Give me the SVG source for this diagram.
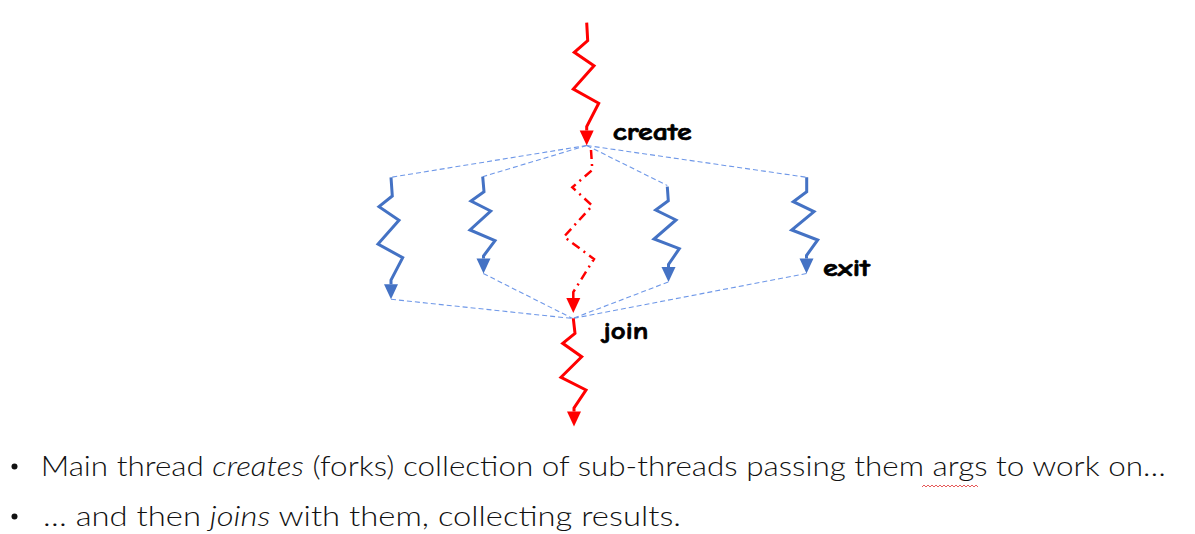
<svg xmlns="http://www.w3.org/2000/svg" width="1195" height="534" viewBox="0 0 1195 534">
<style>
.red{fill:none;stroke:#FF0000;stroke-width:3;stroke-linejoin:miter}
.reddd{fill:none;stroke:#FF0000;stroke-width:2.5;stroke-dasharray:9 5 2 5}
.blue{fill:none;stroke:#4472C4;stroke-width:3}
.dash{fill:none;stroke:#6F98E8;stroke-width:1.1;stroke-dasharray:5 3}
.lbl{font-family:"Comic Sans MS","Comic Neue","DejaVu Sans",sans-serif;font-weight:bold;font-size:24px;fill:#000;stroke:#000;stroke-width:0.7}
.body{font-family:"Gill Sans MT","Gill Sans",Lato,"Liberation Sans",sans-serif;font-weight:300;font-size:28px;fill:#111}
</style>
<defs>
<marker id="ar" markerWidth="15" markerHeight="14" refX="0" refY="7" orient="auto" markerUnits="userSpaceOnUse" overflow="visible"><path d="M0,0 L15,7 L0,14 z" fill="#FF0000"/></marker>
<marker id="ab" markerWidth="15" markerHeight="14" refX="0" refY="7" orient="auto" markerUnits="userSpaceOnUse" overflow="visible"><path d="M0,0 L15,7 L0,14 z" fill="#4472C4"/></marker>
</defs>
<g id="connectors">
<path class="dash" d="M586.7,145.5 L391,177.3"/>
<path class="dash" d="M586.7,145.5 L482.7,176.7"/>
<path class="dash" d="M586.7,145.5 L667.3,185.5"/>
<path class="dash" d="M586.7,145.5 L806.7,177.3"/>
<path class="dash" d="M391,299.3 L572.7,318.5"/>
<path class="dash" d="M483.3,273.5 L572.7,318.5"/>
<path class="dash" d="M668.3,282 L572.7,318.5"/>
<path class="dash" d="M806.5,273.5 L572.7,318.5"/>
</g>
<g id="main-top">
<path class="red" marker-end="url(#ar)" d="M586.7,22.7 L587.7,40.7 L574.3,52.3 L594,65.7 L573.3,89 L598.7,103.3 L586.7,126.5 L586.7,130.5"/>
<text class="lbl" x="612.7" y="140" textLength="79" lengthAdjust="spacingAndGlyphs">create</text>
</g>
<g id="thread1">
<path class="blue" marker-end="url(#ab)" d="M391,177.3 L392.3,196 L379,206.7 L399,220.3 L378,244 L402.7,257.7 L391,280 L391,284.3"/>
</g>
<g id="thread2">
<path class="blue" marker-end="url(#ab)" d="M482.7,176.7 L484,191.7 L471,201 L490.7,211 L470,230 L495,240.7 L483.5,256 L483.5,258.5"/>
</g>
<g id="main-sub">
<path class="reddd" marker-end="url(#ar)" d="M591,150 L592.3,170 L572.3,187.3 L592.3,205.7 L564,236.7 L594,259 L573.3,292 L573.3,298"/>
</g>
<g id="thread3">
<path class="blue" marker-end="url(#ab)" d="M667.3,186.7 L668.3,200.7 L655.7,210 L676,220 L654,239 L679.3,248.7 L668.5,264.5 L668.5,267"/>
</g>
<g id="thread4">
<path class="blue" marker-end="url(#ab)" d="M806.7,177.3 L806.7,191.7 L793.3,201.7 L814,211.7 L791.7,230 L817.7,240 L806.5,255.5 L806.5,258.5"/>
<text class="lbl" x="823" y="276" textLength="47" lengthAdjust="spacingAndGlyphs">exit</text>
</g>
<g id="main-bottom">
<path class="red" marker-end="url(#ar)" d="M573.3,318.3 L575,333.3 L562.7,343.3 L581.7,356.7 L561,377.3 L586,390 L574,408 L574,411.5"/>
<text class="lbl" x="603.3" y="339" textLength="45" lengthAdjust="spacingAndGlyphs">join</text>
</g>
<g id="bullets">
<circle cx="14.5" cy="466.5" r="3" fill="#111"/>
<text class="body" x="40.7" y="476" textLength="1125" lengthAdjust="spacingAndGlyphs">Main thread <tspan font-style="italic">creates</tspan> (forks) collection of sub-threads passing them args to work on…</text>
<path d="M922,487 l2,-2 l2,2 l2,-2 l2,2 l2,-2 l2,2 l2,-2 l2,2 l2,-2 l2,2 l2,-2 l2,2 l2,-2 l2,2 l2,-2 l2,2 l2,-2 l2,2 l2,-2 l2,2 l2,-2 l2,2 l2,-2 l2,2 l2,-2 l2,2 l2,-2 l2,2" fill="none" stroke="#E03030" stroke-width="0.8"/>
<circle cx="14.5" cy="516.5" r="3" fill="#111"/>
<text class="body" x="43" y="526" textLength="638" lengthAdjust="spacingAndGlyphs">… and then <tspan font-style="italic">joins</tspan> with them, collecting results.</text>
</g>
</svg>
